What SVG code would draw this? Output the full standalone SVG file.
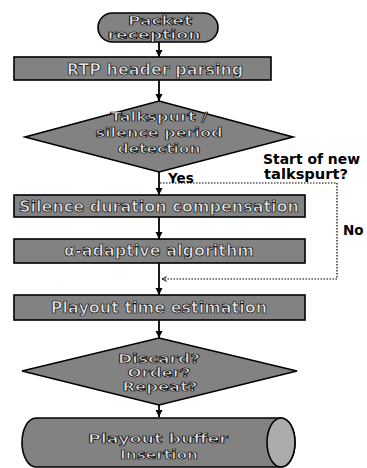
<svg xmlns="http://www.w3.org/2000/svg" width="367" height="468" viewBox="0 0 367 468">
<defs>
<style>
.shape{fill:#828282;stroke:#000;stroke-width:1.6}
.cap{fill:#ababab;stroke:#000;stroke-width:1.6}
.t{font-family:"DejaVu Sans",sans-serif;font-weight:bold;font-size:16px;fill:#e4e4e4;stroke:#000;stroke-width:0.7;text-anchor:middle}
.m{font-size:13px}
.s{font-size:12px}
.lbl{font-family:"DejaVu Sans",sans-serif;font-weight:bold;font-size:13.5px;fill:#000}
.flow{stroke:#000;stroke-width:1.8;fill:none}
.dot{stroke:#000;stroke-width:1.2;fill:none;stroke-dasharray:1.5 1.5}
</style>
<marker id="ah" viewBox="0 0 10 10" refX="10" refY="5" markerWidth="4" markerHeight="4" orient="auto" markerUnits="strokeWidth">
<path d="M0,0 L10,5 L0,10 Z" fill="#000"/>
</marker>
<marker id="ao" viewBox="0 0 10 10" refX="9" refY="5" markerWidth="5" markerHeight="5" orient="auto" markerUnits="strokeWidth">
<path d="M1,1 L9,5 L1,9" fill="none" stroke="#000" stroke-width="1.5"/>
</marker>
</defs>
<rect width="367" height="468" fill="#fff"/>
<g id="connectors">
<line class="flow" x1="159" y1="42" x2="159" y2="57" marker-end="url(#ah)"/>
<line class="flow" x1="159" y1="80" x2="159" y2="101" marker-end="url(#ah)"/>
<line class="flow" x1="159" y1="172" x2="159" y2="195" marker-end="url(#ah)"/>
<line class="flow" x1="159" y1="217" x2="159" y2="239" marker-end="url(#ah)"/>
<line class="flow" x1="159" y1="263" x2="159" y2="295" marker-end="url(#ah)"/>
<line class="flow" x1="159" y1="320" x2="159" y2="338" marker-end="url(#ah)"/>
<line class="flow" x1="159" y1="405" x2="159" y2="417" marker-end="url(#ah)"/>
<polyline class="dot" points="160,183 337,183 337,279 162,279" marker-end="url(#ao)"/>
<text class="lbl" x="168" y="183" font-size="15">Yes</text>
<text class="lbl" x="263" y="164" textLength="97" lengthAdjust="spacingAndGlyphs">Start of new</text>
<text class="lbl" x="264" y="179" textLength="84" lengthAdjust="spacingAndGlyphs">talkspurt?</text>
<text class="lbl" x="343" y="235" font-size="14">No</text>
</g>
<g id="packet-reception">
<rect class="shape" x="98" y="13" width="120" height="29" rx="14.5"/>
<text class="t s" x="160" y="25" textLength="64" lengthAdjust="spacingAndGlyphs">Packet</text>
<text class="t s" x="154" y="39" textLength="93" lengthAdjust="spacingAndGlyphs">reception</text>
</g>
<g id="rtp-header-parsing">
<rect class="shape" x="14" y="57" width="257" height="23"/>
<text class="t" x="155" y="75">RTP header parsing</text>
</g>
<g id="talkspurt-detection">
<polygon class="shape" points="159,101 293,137 159,172 25,137"/>
<text class="t m" x="159" y="121" textLength="97" lengthAdjust="spacingAndGlyphs">Talkspurt /</text>
<text class="t m" x="159" y="137" textLength="127" lengthAdjust="spacingAndGlyphs">silence period</text>
<text class="t m" x="159" y="153" textLength="83" lengthAdjust="spacingAndGlyphs">detection</text>
</g>
<g id="silence-duration-compensation">
<rect class="shape" x="14" y="195" width="291" height="22"/>
<text class="t" x="159" y="212">Silence duration compensation</text>
</g>
<g id="alpha-adaptive-algorithm">
<rect class="shape" x="14" y="239" width="291" height="24"/>
<text class="t" x="159" y="256">α-adaptive algorithm</text>
</g>
<g id="playout-time-estimation">
<rect class="shape" x="14" y="295" width="291" height="25"/>
<text class="t" x="159" y="313">Playout time estimation</text>
</g>
<g id="discard-order-repeat">
<polygon class="shape" points="159,338 297,371 159,405 22,371"/>
<text class="t m" x="159" y="363" textLength="82" lengthAdjust="spacingAndGlyphs">Discard?</text>
<text class="t m" x="159" y="377" textLength="63" lengthAdjust="spacingAndGlyphs">Order?</text>
<text class="t m" x="160" y="391" textLength="75" lengthAdjust="spacingAndGlyphs">Repeat?</text>
</g>
<g id="playout-buffer-insertion">
<path class="shape" d="M36,418 L281,418 A14,24.5 0 0 1 281,467 L36,467 A14,24.5 0 0 1 36,418 Z"/>
<ellipse class="cap" cx="281" cy="442.5" rx="14" ry="24.5"/>
<text class="t m" x="158" y="443" textLength="140" lengthAdjust="spacingAndGlyphs">Playout buffer</text>
<text class="t m" x="159" y="459" textLength="78" lengthAdjust="spacingAndGlyphs">Insertion</text>
</g>
</svg>
